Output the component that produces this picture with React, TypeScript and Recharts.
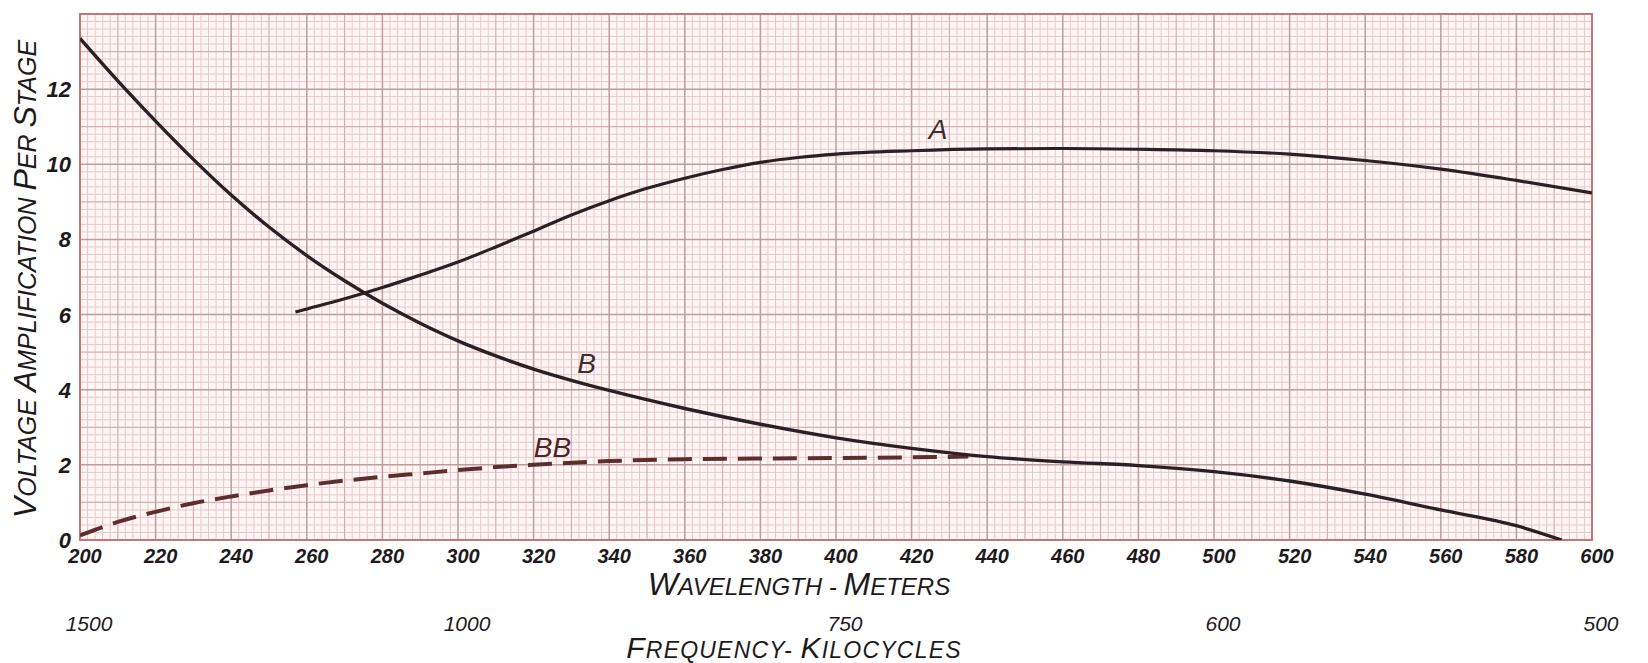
import React from "react";
import {
  LineChart,
  Line,
  XAxis,
  YAxis,
  CartesianGrid,
  ReferenceArea,
  ReferenceDot,
  Label,
} from "recharts";

// ---- Tick labels ----
const wavelengthTicks = [200, 220, 240, 260, 280, 300, 320, 340, 360, 380, 400, 420, 440, 460, 480, 500, 520, 540, 560, 580, 600];
const amplificationTicks = [0, 2, 4, 6, 8, 10, 12];
const frequencyTickPositions = [200, 300, 400, 500, 600]; // wavelength (m) where each frequency falls
const frequencyTickLabels = ["1500", "1000", "750", "600", "500"];

// ---- Curve A ----
const curveAWavelength = [257, 260, 270, 280, 290, 300, 310, 320, 330, 340, 350, 360, 370, 380, 390, 400, 420, 440, 460, 480, 500, 520, 540, 560, 580, 600];
const curveAValues = [6.07, 6.15, 6.42, 6.72, 7.05, 7.4, 7.8, 8.22, 8.65, 9.03, 9.36, 9.63, 9.86, 10.05, 10.18, 10.27, 10.36, 10.41, 10.42, 10.4, 10.36, 10.27, 10.1, 9.87, 9.57, 9.24];

// ---- Curve B ----
const curveBWavelength = [200, 210, 220, 230, 240, 250, 260, 270, 280, 290, 300, 310, 320, 330, 340, 360, 380, 400, 420, 440, 460, 480, 500, 520, 540, 560, 580, 592];
const curveBValues = [13.35, 12.22, 11.15, 10.13, 9.18, 8.33, 7.57, 6.9, 6.3, 5.77, 5.3, 4.9, 4.55, 4.25, 3.98, 3.5, 3.08, 2.72, 2.44, 2.22, 2.08, 1.98, 1.82, 1.57, 1.22, 0.8, 0.38, 0.0];

// ---- Curve BB (dashed) ----
const curveBBWavelength = [200, 210, 220, 230, 240, 250, 260, 270, 280, 290, 300, 310, 320, 340, 360, 380, 400, 420, 435];
const curveBBValues = [0.12, 0.48, 0.75, 0.98, 1.16, 1.32, 1.46, 1.58, 1.68, 1.77, 1.86, 1.94, 2.0, 2.1, 2.15, 2.17, 2.18, 2.2, 2.22];

// ---- Hand-written curve names (wavelength, amplification) ----
const curveLabelNames = ["A", "B", "BB"];
const curveLabelWavelength = [427, 334, 325];
const curveLabelValues = [10.95, 4.72, 2.48];

const toPoints = (xs: number[], ys: number[]) => xs.map((w, i) => ({ w, v: ys[i] }));
const curveA = toPoints(curveAWavelength, curveAValues);
const curveB = toPoints(curveBWavelength, curveBValues);
const curveBB = toPoints(curveBBWavelength, curveBBValues);

// graph-paper rulings
const xMinor: number[] = [];
const xMid: number[] = [];
const xMajor: number[] = [];
for (let w = 200; w <= 600; w += 2) {
  if (w % 20 === 0) xMajor.push(w);
  else if (w % 10 === 0) xMid.push(w);
  else xMinor.push(w);
}
const yMinor: number[] = [];
const yMid: number[] = [];
const yMajor: number[] = [];
for (let i = 0; i <= 70; i++) {
  const v = i / 5;
  if (i % 10 === 0) yMajor.push(v);
  else if (i % 5 === 0) yMid.push(v);
  else yMinor.push(v);
}

const FONT = "'Liberation Sans', Arial, sans-serif";
const INK = "#1e1a1c";
const WL = 0;
const FREQ = 1;

const WavelengthTick = (props: any) => {
  const { x, y, payload } = props;
  return (
    <text x={x + 5} y={y + 23} textAnchor="middle" fontFamily={FONT} fontStyle="italic" fontWeight="bold" fontSize={20} fill={INK}>
      {payload.value}
    </text>
  );
};

const FrequencyTick = (props: any) => {
  const { x, y, payload } = props;
  const idx = frequencyTickPositions.indexOf(payload.value);
  return (
    <text x={x + 9} y={y + 31} textAnchor="middle" fontFamily={FONT} fontStyle="italic" fontSize={21} fill={INK}>
      {idx >= 0 ? frequencyTickLabels[idx] : ""}
    </text>
  );
};

const AmpTick = (props: any) => {
  const { x, y, payload } = props;
  return (
    <text x={x - 9} y={y + 8} textAnchor="end" fontFamily={FONT} fontStyle="italic" fontWeight="bold" fontSize={22} fill={INK}>
      {payload.value}
    </text>
  );
};

const smallCaps = (text: string, big: number, small: number) => {
  const parts: React.ReactNode[] = [];
  let startOfWord = true;
  for (let i = 0; i < text.length; i++) {
    const ch = text[i];
    if (ch === " " || ch === "-") {
      parts.push(<tspan key={i} fontSize={small}>{ch}</tspan>);
      startOfWord = true;
    } else {
      parts.push(<tspan key={i} fontSize={startOfWord ? big : small}>{ch}</tspan>);
      startOfWord = false;
    }
  }
  return parts;
};

const WavelengthTitle = (props: any) => {
  const vb = props.viewBox || { x: 72, y: 532 };
  return (
    <text x={vb.x + 719} y={vb.y + 55} textAnchor="middle" fontFamily={FONT} fontStyle="italic" fill={INK}>
      {smallCaps("WAVELENGTH - METERS", 32, 24)}
    </text>
  );
};

const FrequencyTitle = (props: any) => {
  const vb = props.viewBox || { x: 72, y: 592 };
  return (
    <text x={vb.x + 714} y={vb.y + 58} textAnchor="middle" fontFamily={FONT} fontStyle="italic" fill={INK} letterSpacing={1.2}>
      {smallCaps("FREQUENCY- KILOCYCLES", 30, 23)}
    </text>
  );
};

const AmpTitle = () => {
  const cx = 28;
  const cy = 271;
  return (
    <text x={cx} y={cy} textAnchor="middle" fontFamily={FONT} fontStyle="italic" fill={INK}
      transform={`rotate(-90, ${cx}, ${cy})`}>
      {smallCaps("VOLTAGE AMPLIFICATION PER STAGE", 32, 25)}
    </text>
  );
};

export default function App() {
  return (
    <LineChart width={1632} height={655} margin={{ top: 6, right: 48, bottom: 0, left: 0 }}>
      <CartesianGrid xAxisId={WL} verticalValues={xMinor} horizontalValues={yMinor} stroke="#ebc8c8" strokeWidth={1} fill="#fdf6f5" />
      <CartesianGrid xAxisId={WL} verticalValues={xMid} horizontalValues={yMid} stroke="#d8b0b0" strokeWidth={1.2} />
      <CartesianGrid xAxisId={WL} verticalValues={xMajor} horizontalValues={yMajor} stroke="#bf9c9c" strokeWidth={1.5} />
      <XAxis
        xAxisId={WL}
        dataKey="w"
        type="number"
        domain={[200, 600]}
        ticks={wavelengthTicks}
        interval={0}
        allowDataOverflow
        height={60}
        tickSize={0}
        tickMargin={0}
        tickLine={false}
        axisLine={false}
        tick={<WavelengthTick />}
      >
        <Label content={<WavelengthTitle />} />
      </XAxis>
      <XAxis
        xAxisId={FREQ}
        dataKey="w"
        type="number"
        domain={[200, 600]}
        ticks={frequencyTickPositions}
        interval={0}
        allowDataOverflow
        height={63}
        tickSize={0}
        tickMargin={0}
        tickLine={false}
        axisLine={false}
        tick={<FrequencyTick />}
      >
        <Label content={<FrequencyTitle />} />
      </XAxis>
      <YAxis
        type="number"
        domain={[0, 14]}
        ticks={amplificationTicks}
        interval={0}
        allowDataOverflow
        width={72}
        tickSize={0}
        tickMargin={0}
        tickLine={false}
        axisLine={false}
        tick={<AmpTick />}
      >
        <Label content={<AmpTitle />} />
      </YAxis>
      <ReferenceArea xAxisId={WL} x1={200} x2={600} y1={0} y2={14} fill="none" stroke="#c47676" strokeWidth={2} ifOverflow="visible" />
      <Line xAxisId={WL} data={curveBB} dataKey="v" type="monotone" dot={false} stroke="#5e2e2e" strokeWidth={4}
        strokeDasharray="24 11" isAnimationActive={false} />
      <Line xAxisId={WL} data={curveB} dataKey="v" type="monotone" dot={false} stroke="#2a2026" strokeWidth={3.4}
        isAnimationActive={false} />
      <Line xAxisId={WL} data={curveA} dataKey="v" type="monotone" dot={false} stroke="#2a2026" strokeWidth={3.2}
        isAnimationActive={false} />
      {curveLabelNames.map((name, i) => (
        <ReferenceDot key={name} xAxisId={WL} x={curveLabelWavelength[i]} y={curveLabelValues[i]} r={1}
          fill="none" stroke="none" ifOverflow="visible">
          <Label value={name} position="center" fontFamily={FONT} fontStyle="italic" fontSize={28}
            fill={name === "BB" ? "#4e2424" : "#3a2e30"} />
        </ReferenceDot>
      ))}
    </LineChart>
  );
}
